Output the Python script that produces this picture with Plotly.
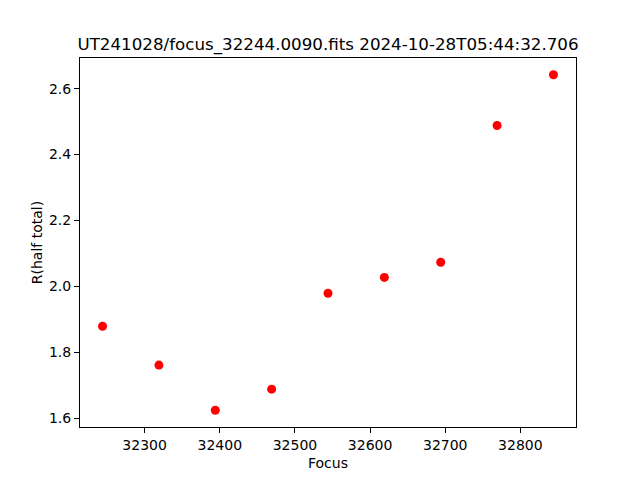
import plotly.graph_objects as go

focus = [32244, 32319, 32394, 32469, 32544, 32619, 32694, 32769, 32844]
r_half = [1.879, 1.761, 1.624, 1.688, 1.979, 2.027, 2.073, 2.488, 2.642]
x_ticks = [32300, 32400, 32500, 32600, 32700, 32800]
y_ticks = [1.6, 1.8, 2.0, 2.2, 2.4, 2.6]

title = "UT241028/focus_32244.0090.fits 2024-10-28T05:44:32.706"

fig = go.Figure(go.Scatter(
    x=focus, y=r_half, mode="markers",
    marker=dict(color="#ff0000", size=9, line=dict(width=0)),
))

axis_common = dict(
    showline=True, linecolor="black", linewidth=1, mirror=True,
    ticks="outside", ticklen=5, tickwidth=1, tickcolor="black",
    showgrid=False, zeroline=False,
    tickfont=dict(family="DejaVu Sans", size=14, color="black"),
)

span_x = max(focus) - min(focus)
span_y = max(r_half) - min(r_half)

fig.update_layout(
    width=640, height=480,
    paper_bgcolor="white", plot_bgcolor="white",
    margin=dict(l=80, r=64, t=58, b=53),
    showlegend=False,
    title=dict(text=title, x=0.5, xanchor="center", xref="paper",
               y=1 - 44 / 480, yanchor="middle",
               font=dict(family="DejaVu Sans", size=16.7, color="black")),
    xaxis=dict(**axis_common, tickvals=x_ticks, tickformat="d",
               range=[min(focus) - 0.05 * span_x, max(focus) + 0.05 * span_x],
               title=dict(text="Focus", standoff=6,
                          font=dict(family="DejaVu Sans", size=14, color="black"))),
    yaxis=dict(**axis_common, tickvals=y_ticks, tickformat=".1f",
               range=[min(r_half) - 0.05 * span_y, max(r_half) + 0.05 * span_y],
               title=dict(text="R(half total)", standoff=3,
                          font=dict(family="DejaVu Sans", size=14, color="black"))),
)

fig.write_html("out.html", config={"displayModeBar": False},
               post_script="document.body.style.margin='0';")
